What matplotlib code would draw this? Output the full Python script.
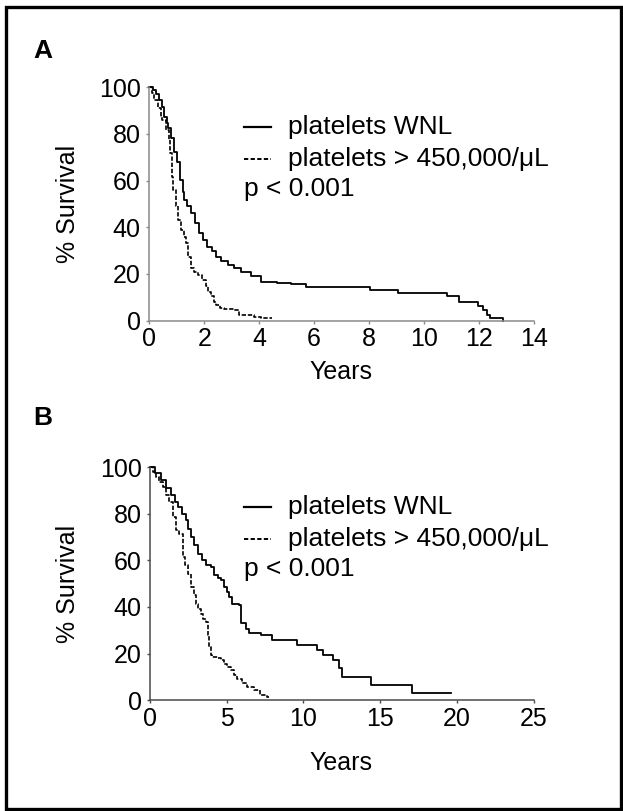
import matplotlib
matplotlib.use("Agg")
import matplotlib.pyplot as plt
from matplotlib.patches import Rectangle
from matplotlib.lines import Line2D

plt.rcParams.update({"font.family": ["Liberation Sans", "DejaVu Sans"]})

W, H = 623, 811

# Kaplan-Meier step points (years, % surviving)
a_wnl_t = [0, 0.12, 0.24, 0.36, 0.45, 0.55, 0.64, 0.69, 0.79, 0.91, 1.01, 1.13,
           1.21, 1.27, 1.39, 1.52, 1.66, 1.82, 1.96, 2.12, 2.27, 2.42, 2.63,
           2.85, 3.09, 3.33, 3.7, 4.06, 4.67, 5.15, 5.7, 8.04, 9.05, 10.85,
           11.3, 11.98, 12.15, 12.3, 12.42, 12.89]
a_wnl_s = [100, 98.9, 97.1, 94.6, 91.7, 87.4, 84.6, 82.4, 78.1, 72.4, 68.1, 60.3,
           55.3, 51.7, 48.9, 46, 41.7, 37.4, 34.6, 31.7, 29.6, 27.4, 25.6, 23.9,
           22.4, 21, 18.9, 16.7, 16, 15.6, 14.3, 13.1, 12.0, 10.7, 8.0, 6.3,
           4.5, 2.4, 1.0, 0]
a_high_t = [0, 0.085, 0.18, 0.3, 0.42, 0.48, 0.61, 0.73, 0.76, 0.82, 0.88, 0.97,
            1.05, 1.15, 1.25, 1.33, 1.42, 1.52, 1.64, 1.76, 1.92, 2.06, 2.15,
            2.24, 2.34, 2.42, 2.58, 2.73, 3.09, 3.27, 3.82, 4.06, 4.48]
a_high_s = [100, 97.4, 94.6, 91, 87.4, 86, 81.7, 77.4, 71.7, 61.7, 56, 48.9,
            43.1, 38.9, 36, 33.1, 27.4, 22.4, 21, 19.6, 17.4, 14.6, 12.4, 10.3,
            8.1, 6.7, 5.3, 4.9, 4.3, 2.4, 1.7, 1.0, 1.0]

b_wnl_t = [0, 0.35, 0.71, 1.05, 1.36, 1.6, 1.8, 2.1, 2.34, 2.5, 2.66, 2.9, 3.1,
           3.4, 3.64, 3.96, 4.18, 4.4, 4.61, 4.83, 5.0, 5.15, 5.37, 5.8, 5.91,
           6.23, 6.45, 7.21, 7.97, 9.59, 10.9, 11.3, 11.9, 12.3, 12.5, 14.4,
           17.1, 19.6]
b_wnl_s = [100, 97.5, 94.3, 91, 87.8, 85, 82.8, 80, 77.1, 73.5, 70, 66.5, 62.9,
           60, 57.8, 57.1, 53.6, 52.5, 51.4, 48.6, 46.5, 44.3, 41.4, 40.7, 32.9,
           30.7, 29, 27.8, 25.7, 23.6, 21.4, 19.5, 17.1, 13.6, 10, 6.7, 3.3, 3.3]
b_high_t = [0, 0.2, 0.39, 0.6, 0.82, 1.05, 1.25, 1.47, 1.69, 1.9, 2.12, 2.3,
            2.45, 2.66, 2.88, 2.99, 3.15, 3.31, 3.45, 3.64, 3.75, 3.85, 3.96,
            4.07, 4.4, 4.61, 4.82, 5.05, 5.26, 5.45, 5.69, 6.0, 6.34, 6.8, 7.2,
            7.6, 7.75]
b_high_s = [100, 98, 95.7, 93.5, 91.4, 88, 85, 78.5, 72.8, 71.4, 61.4, 58, 54.3,
            48.6, 45, 41.4, 39, 37.1, 35, 33.6, 28, 22.8, 19.5, 18.6, 17.9, 17.1,
            15.7, 14.3, 12.9, 11, 9.3, 7.5, 5.7, 4.3, 2.1, 1.5, 1.5]

panels = [
    dict(tag="A", tag_y=51, top=87.3, left=149.3, years_y=372,
         t1=a_wnl_t, s1=a_wnl_s, t2=a_high_t, s2=a_high_s,
         xmax=14, xstep=2, spine="#8a8a8a"),
    dict(tag="B", tag_y=418, top=467, left=150, years_y=763,
         t1=b_wnl_t, s1=b_wnl_s, t2=b_high_t, s2=b_high_s,
         xmax=25, xstep=5, spine="#4a4a4a"),
]

RIGHT, AX_H = 533.6, 233.2
DASH = (0, (2.6, 1.1))
FS = 18
FS_LEG = 19


def fx(x):
    return x / W


def fy(y):
    return 1 - y / H


fig = plt.figure(figsize=(W / 100, H / 100), dpi=100)
fig.add_artist(Rectangle((fx(6), fy(809)), fx(615), 802 / H, transform=fig.transFigure,
                         fill=False, ec="black", lw=2.4))

for p in panels:
    top = p["top"]
    ax = fig.add_axes([fx(p["left"]), fy(top + AX_H), (RIGHT - p["left"]) / W, AX_H / H])
    ax.step(p["t1"], p["s1"], where="post", color="black", lw=1.3, clip_on=False)
    ax.step(p["t2"], p["s2"], where="post", color="black", lw=1.2,
            ls=DASH, clip_on=False)
    ax.set_xlim(0, p["xmax"])
    ax.set_ylim(0, 100)
    ax.set_xticks(range(0, p["xmax"] + 1, p["xstep"]))
    ax.set_yticks(range(0, 101, 20))
    for s in ("top", "right"):
        ax.spines[s].set_visible(False)
    for s in ("left", "bottom"):
        ax.spines[s].set_color(p["spine"])
        ax.spines[s].set_linewidth(1.1)
    ax.tick_params(axis="both", direction="out", length=2.5, width=1,
                   color=p["spine"], labelsize=FS)
    ax.tick_params(axis="y", pad=3.6)
    ax.tick_params(axis="x", pad=2.5)
    ax.patch.set_visible(False)

    fig.text(fx(43), fy(p["tag_y"]), p["tag"], fontsize=19, fontweight="bold",
             ha="center", va="center")
    fig.text(fx(68), fy(top + 117), "% Survival", fontsize=FS, rotation=90,
             ha="center", va="center")
    fig.text(fx(341), fy(p["years_y"]), "Years", fontsize=FS, ha="center",
             va="center")

    # legend block
    fig.add_artist(Line2D([fx(244), fx(271)], [fy(top + 40)] * 2, color="black",
                          lw=1.6, transform=fig.transFigure))
    fig.add_artist(Line2D([fx(244), fx(271)], [fy(top + 72)] * 2, color="black",
                          lw=1.4, ls=(0, (2.2, 1.2)), transform=fig.transFigure))
    fig.text(fx(288), fy(top + 40), "platelets WNL", fontsize=FS_LEG, va="center")
    fig.text(fx(288), fy(top + 72), "platelets > 450,000/\u03bcL", fontsize=FS_LEG,
             va="center")
    fig.text(fx(244), fy(top + 102), "p < 0.001", fontsize=FS_LEG, va="center")

fig.savefig("out.png", dpi=100)
